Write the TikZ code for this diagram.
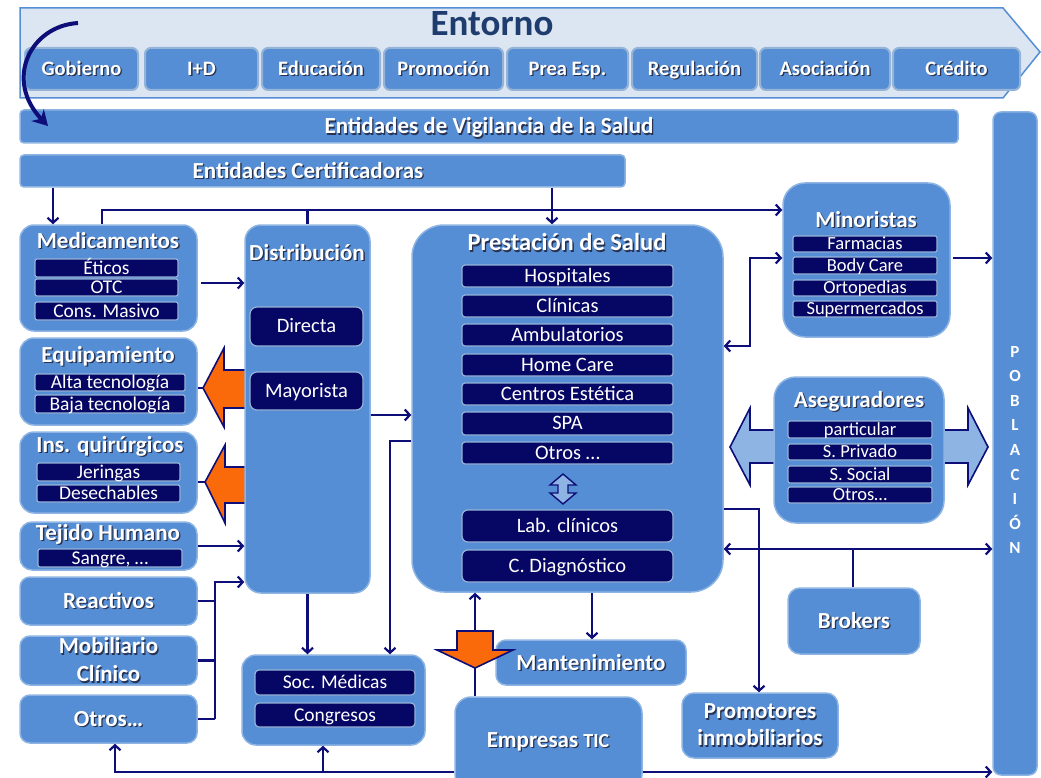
\documentclass[tikz,border=0pt]{standalone}
\usepackage{fontspec}
\setmainfont{Carlito}
\usetikzlibrary{arrows.meta}

\definecolor{blkfill}{RGB}{85,142,213}
\definecolor{blkedge}{RGB}{141,180,226}
\definecolor{dkfill}{RGB}{6,6,100}
\definecolor{dkedge}{RGB}{149,179,215}
\definecolor{lnblue}{RGB}{14,14,120}
\definecolor{bandfill}{RGB}{220,230,242}
\definecolor{orng}{RGB}{250,106,10}
\definecolor{liteblue}{RGB}{142,180,227}
\definecolor{shcol}{RGB}{40,50,80}
\definecolor{enttxt}{RGB}{30,60,110}

% white bold text with a small dark shadow
\newcommand\shd[1]{\leavevmode\rlap{\kern1.3pt\raisebox{-1.3pt}{\textcolor{shcol}{#1}}}#1}
\newcommand\ttlfont{\bfseries\fontsize{23}{26}\selectfont}
% \bx[style]{name}{x1}{y1}{x2}{y2}{text}
\newcommand\bx[7][]{\node[#1, minimum width={(#5)-(#3)}, minimum height={(#6)-(#4)}] (#2) at ({((#3)+(#5))/2},{((#4)+(#6))/2}) {#7};}

\tikzset{
  blk/.style={draw=blkedge, line width=1.5pt, fill=blkfill, rounded corners=8pt,
    inner sep=0pt, text=white, font=\ttlfont, align=center},
  one/.style={text height=16pt, text depth=1pt},
  envbox/.style={blk, draw=dkedge, line width=2pt, rounded corners=6pt,
    font=\bfseries\fontsize{20.5}{22}\selectfont, text height=14pt, text depth=1pt},
  dk/.style={draw=dkedge, line width=1.2pt, fill=dkfill, rounded corners=2pt,
    inner sep=0pt, text=white, font=\fontsize{19.5}{21}\selectfont,
    text height=13pt, text depth=1pt},
  sm/.style={font=\fontsize{18.5}{20}\selectfont, text height=12.5pt},
  big/.style={font=\fontsize{20.5}{22}\selectfont, text height=13.5pt},
  ttl/.style={text=white, font=\ttlfont, inner sep=0pt},
  conn/.style={draw=lnblue, line width=2.2pt},
  orngar/.style={fill=orng, draw=lnblue, line width=1.6pt},
  litear/.style={fill=liteblue, draw=lnblue, line width=1.6pt},
}

\begin{document}
\begin{tikzpicture}[x=1pt, y=-1pt, >={Straight Barb[length=5pt,width=11pt]}]
\useasboundingbox (0,0) rectangle (1041,778);
\clip (0,0) rectangle (1041,778);

% Entorno band
\draw[fill=bandfill, draw=blkfill, line width=1.5pt]
  (20,8) -- (1003,8) -- (1040,52) -- (1003,98) -- (20,98) -- cycle;
\node[font=\bfseries\fontsize{37}{40}\selectfont, text=enttxt, inner sep=0pt] (ent) at (492,24) {Entorno};
\foreach \xa/\xb/\lbl [count=\i] in {25/138/Gobierno, 145/258/I+D, 262/380/Educación,
  384/503/Promoción, 507/628/Prea Esp., 632/757/Regulación, 760/890/Asociación, 893/1020/Crédito}
  {\bx[envbox]{env\i}{\xa}{48}{\xb}{90}{\shd{\lbl}}}

\bx[blk,one,rounded corners=4pt]{vig}{20}{110}{958}{143}{\shd{Entidades de Vigilancia de la Salud}}
\bx[blk,rounded corners=4pt]{cert}{20}{155}{625}{187}{}
\node[ttl] (certt) at (308,171) {\shd{Entidades Certificadoras}};

% curved arrow
\coordinate (cv1) at (78,23);
\coordinate (cv2) at (48,126);
\draw[lnblue, line width=4pt, -{Stealth[length=15pt,width=17pt]}]
  (cv1) .. controls (30,26) and (4,80) .. (cv2);

% orange and light blue block arrows
\draw[orngar] (250,370) -- (224,370) -- (224,348) -- (203,388) -- (224,427) -- (224,408) -- (250,408);
\draw[orngar] (250,467) -- (225,467) -- (225,445) -- (205,482) -- (225,523) -- (225,503) -- (250,503);
\draw[litear] (778,430) -- (750,430) -- (750,408) -- (730,447) -- (750,485) -- (750,463) -- (778,463);
\draw[litear] (940,430) -- (968,430) -- (968,408) -- (988,447) -- (968,485) -- (968,463) -- (940,463);

% left column
\bx[blk,rounded corners=14pt]{med}{20}{225}{197}{331}{}
\node[ttl] (medt) at (108,241) {\shd{Medicamentos}};
\bx[dk]{med1}{35}{259}{178}{277}{Éticos}
\bx[dk]{med2}{35}{279}{178}{296}{OTC}
\bx[dk]{med3}{35}{302}{178}{320}{Cons. Masivo}

\bx[blk,rounded corners=14pt]{equ}{20}{338}{197}{425}{}
\node[ttl] (equt) at (108,357) {\shd{Equipamiento}};
\bx[dk]{equ1}{35}{374}{185}{391}{Alta tecnología}
\bx[dk]{equ2}{35}{395}{185}{413}{Baja tecnología}

\bx[blk,rounded corners=14pt]{ins}{20}{432}{197}{513}{}
\node[ttl] (inst) at (110,447) {\shd{Ins. quirúrgicos}};
\bx[dk]{ins1}{37}{463}{180}{481}{Jeringas}
\bx[dk]{ins2}{37}{485}{180}{502}{Desechables}

\bx[blk,rounded corners=12pt]{tej}{20}{522}{197}{570}{}
\node[ttl] (tejt) at (108,535) {\shd{Tejido Humano}};
\bx[dk]{tej1}{38}{549}{182}{567}{Sangre, \dots}

\bx[blk,one,rounded corners=10pt]{rea}{20}{577}{197}{625}{\shd{Reactivos}}
\bx[blk,rounded corners=10pt]{mob}{20}{636}{197}{685}{\shd{Mobiliario}\\[2pt]\shd{Clínico}}
\bx[blk,one,rounded corners=10pt]{otr}{20}{695}{197}{743}{\shd{Otros\dots}}

% Distribucion
\bx[blk,rounded corners=16pt]{dis}{245}{225}{370}{593}{}
\node[ttl] (dist) at (307,253) {\shd{Distribución}};
\bx[dk,big,rounded corners=7pt]{dis1}{250}{307}{363}{346}{Directa}
\bx[dk,big,rounded corners=7pt]{dis2}{250}{372}{363}{410}{Mayorista}

% Prestacion de Salud
\bx[blk,rounded corners=32pt]{pre}{412}{225}{723}{592}{}
\node[ttl, font=\bfseries\fontsize{24.5}{27}\selectfont] (pret) at (567,243) {\shd{Prestación de Salud}};
\foreach \ya/\yb/\lbl [count=\i] in {265/287/Hospitales, 295/317/Clínicas, 324/346/Ambulatorios,
  354/376/Home Care, 383/405/Centros Estética, 412/435/SPA}
  {\bx[dk,big,rounded corners=3pt]{pre\i}{462}{\ya}{673}{\yb}{\lbl}}
\bx[dk,big,rounded corners=3pt]{pre7}{462}{442}{673}{464}{Otros \dots}
\draw[litear, line width=1.4pt] (563,474) -- (576,485) -- (568,485) -- (568,493) -- (576,493) -- (563,504)
  -- (550,493) -- (558,493) -- (558,485) -- (550,485) -- cycle;
\bx[dk,big,rounded corners=6pt]{lab}{462}{510}{673}{542}{Lab. clínicos}
\bx[dk,big,rounded corners=6pt]{cdx}{462}{550}{673}{582}{C. Diagnóstico}

% Minoristas
\bx[blk,rounded corners=22pt]{min}{783}{183}{950}{337}{}
\node[ttl] (mint) at (866,220) {\shd{Minoristas}};
\bx[dk,sm]{min1}{793}{236}{937}{252}{Farmacias}
\bx[dk,sm]{min2}{793}{257}{937}{274}{Body Care}
\bx[dk,sm]{min3}{793}{280}{937}{296}{Ortopedias}
\bx[dk,sm]{min4}{793}{301}{937}{317}{Supermercados}

% Aseguradores
\bx[blk,rounded corners=22pt]{ase}{774}{377}{944}{523}{}
\node[ttl] (aset) at (859,402) {\shd{Aseguradores}};
\bx[dk,sm]{ase1}{788}{421}{932}{438}{particular}
\bx[dk,sm]{ase2}{788}{444}{932}{460}{S. Privado}
\bx[dk,sm]{ase3}{788}{466}{932}{483}{S. Social}
\bx[dk,sm]{ase4}{788}{487}{932}{503}{Otros\dots}

% lower boxes
\bx[blk,one,rounded corners=12pt]{bro}{788}{588}{920}{654}{\shd{Brokers}}
\bx[blk,rounded corners=12pt]{pro}{682}{693}{838}{758}{\shd{Promotores}\\[1pt]\shd{inmobiliarios}}
\bx[blk,one,rounded corners=10pt]{man}{496}{640}{686}{685}{\shd{Mantenimiento}}
\bx[blk,rounded corners=16pt]{tic}{455}{697}{642}{790}{}
\node[ttl] (tict) at (548,742) {\shd{Empresas {\fontsize{20}{22}\selectfont TIC}}};
\bx[blk,rounded corners=14pt]{soc}{242}{655}{425}{745}{}
\bx[dk,rounded corners=4pt]{soc1}{255}{670}{415}{695}{Soc. Médicas}
\bx[dk,rounded corners=4pt]{soc2}{255}{703}{415}{727}{Congresos}

% Poblacion
\bx[blk,rounded corners=8pt]{pob}{993}{112}{1037}{775}{}
\node[text=white, font=\bfseries\fontsize{17}{24.6}\selectfont, align=center, inner sep=0pt]
  (pobt) at (1015,450) {P\\O\\B\\L\\A\\C\\I\\Ó\\N};

% connectors
\coordinate (c1) at (53,0);
\coordinate (c2) at (102,210);
\coordinate (c4) at (552,0);
\coordinate (c5) at (0,283);
\coordinate (c6) at (215,582);
\coordinate (c8) at (0,415);
\coordinate (c9) at (390,441);
\coordinate (k1) at (750,258);
\coordinate (k2) at (750,346);
\coordinate (k4) at (759,509);
\coordinate (k5) at (853,549);
\coordinate (k7) at (592,0);
\coordinate (k8) at (475,0);
\coordinate (k9) at (115,772);
\coordinate (k11) at (323,772);
\coordinate (o1) at (203,388);
\coordinate (o2) at (205,482);

\draw[conn,->] (cert.south -| c1) -- (med.north -| c1);
\draw[conn,->] (med.north -| c2) |- (min.west |- c2);
\draw[conn] (dis.north) -- (dis.north |- c2);
\draw[conn,->] (cert.south -| c4) -- (pre.north -| c4);
\draw[conn,->, shorten <=3pt] (med.east |- c5) -- (dis.west |- c5);
\draw[conn,->] (tej.east) -- (dis.west |- tej.east);
\draw[conn,->] (otr.east -| c6) -- (c6) -- (dis.west |- c6);
\foreach \n in {rea,mob,otr} \draw[conn] (\n.east) -- (\n.east -| c6);
\draw[lnblue, line width=1.6pt] (equ.east |- o1) -- (o1);
\draw[lnblue, line width=1.6pt] (ins.east |- o2) -- (o2);
\draw[conn,->] (dis.east |- c8) -- (pre.west |- c8);
\draw[conn,->] (pre.west |- c9) -| (soc.north -| c9);
\draw[conn,->] (dis.south) -- (soc.north -| dis.south);
\draw[conn,<->] (pre.east |- k2) -- (k2) -- (k1) -- (min.west |- k1);
\draw[conn,->, shorten <=2pt] (min.east |- k1) -- (pob.west |- k1);
\draw[conn,->] (pre.east |- k4) -| (pro.north -| k4);
\draw[conn,<->] (pre.east |- k5) -- (pob.west |- k5);
\draw[conn] (bro.north -| k5) -- (k5);
\draw[conn,->] (pre.south -| k7) -- (man.north -| k7);
\draw[conn,->] (tic.north -| k8) -- (pre.south -| k8);
\draw[conn,->] (tic.west |- k9) -| (otr.south -| k9);
\draw[conn,->] (k11) -- (soc.south -| k11);
\draw[conn,->] (tic.east |- k9) -- (pob.west |- k9);

% orange arrow on the TIC line
\draw[orngar] (457,631) -- (493,631) -- (493,650) -- (513,650) -- (475,668) -- (437,650) -- (457,650) -- cycle;
\end{tikzpicture}
\end{document}
